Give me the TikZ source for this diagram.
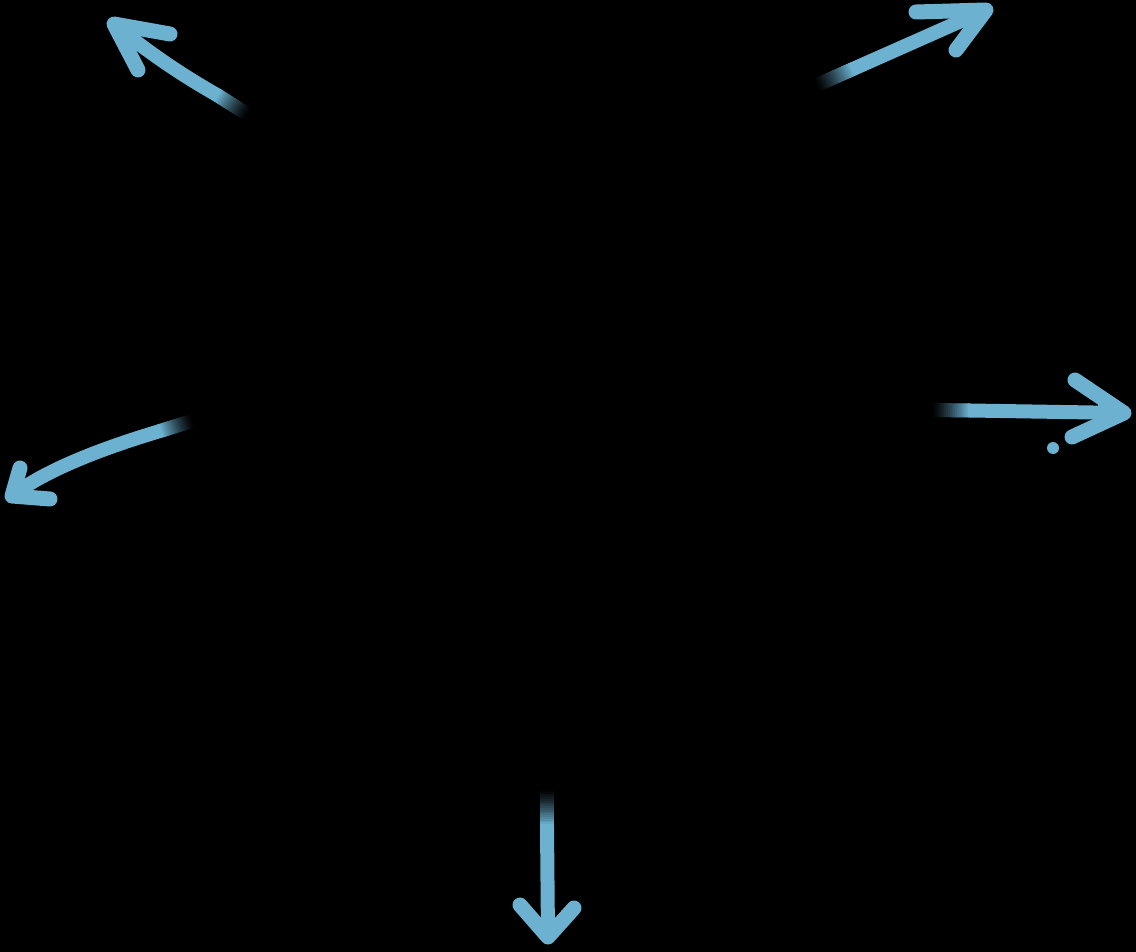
\documentclass[tikz,border=0pt]{standalone}
\usetikzlibrary{calc}
\definecolor{lb}{RGB}{108,178,208}
\tikzset{
  shaft/.style={line width=14pt, line cap=butt},
  head/.style={draw=lb, line width=15pt, line cap=round, line join=round},
  wedge/.style={fill=lb, draw=lb, line width=12pt, line join=round},
}
\newcommand{\chalkfade}[2]{%
  \foreach \k in {1,...,20}{%
    \pgfmathsetmacro{\pct}{100*(\k/20)^1.3}%
    \draw[shaft, draw=lb!\pct!black] ($(#1)!{(\k-1)/20}!(#2)$) -- ($(#1)!{(\k+0.4)/20}!(#2)$);
  }}
\newcommand{\chalkhead}[3]{%
  \draw[head] (#2) -- (#1) -- (#3);
  \filldraw[wedge] (#1) -- ($(#1)!0.4!(#2)$) -- ($(#1)!0.4!(#3)$) -- cycle;
}
\begin{document}
\begin{tikzpicture}[x=1pt,y=-1pt]
\fill[black] (0,0) rectangle (1136,952);
\useasboundingbox (0,0) rectangle (1136,952);

% top-left arrow
\coordinate (s1) at (247,114);
\coordinate (f1) at (217,95);
\coordinate (t1) at (114,24);
\coordinate (b1a) at (170,34);
\coordinate (b1b) at (138,70);
\chalkfade{s1}{f1}
\draw[shaft, draw=lb] (f1) .. controls (180,74) and (145,50) .. (t1);
\chalkhead{t1}{b1a}{b1b}

% top-right arrow
\coordinate (s2) at (817,85);
\coordinate (f2) at (853,69);
\coordinate (t2) at (986,10);
\coordinate (b2a) at (916,12);
\coordinate (b2b) at (956,50);
\chalkfade{s2}{f2}
\draw[shaft, draw=lb] (f2) -- (t2);
\chalkhead{t2}{b2a}{b2b}

% right arrow
\coordinate (s3) at (933,410);
\coordinate (f3) at (970,410.5);
\coordinate (t3) at (1124,413);
\coordinate (b3a) at (1075,380);
\coordinate (b3b) at (1072,437);
\chalkfade{s3}{f3}
\draw[shaft, draw=lb] (f3) -- (t3);
\chalkhead{t3}{b3a}{b3b}
\fill[lb] (1053,448) circle (6);

% left arrow
\coordinate (s4) at (192,421);
\coordinate (f4) at (160,431);
\coordinate (t4) at (12,496);
\coordinate (b4a) at (20,468);
\coordinate (b4b) at (50,499);
\chalkfade{s4}{f4}
\draw[shaft, draw=lb] (f4) .. controls (120,443) and (50,466) .. (t4);
\chalkhead{t4}{b4a}{b4b}

% bottom arrow
\coordinate (s5) at (547,790);
\coordinate (f5) at (547,826);
\coordinate (t5) at (548,937);
\coordinate (b5a) at (520,905);
\coordinate (b5b) at (574,908);
\chalkfade{s5}{f5}
\draw[shaft, draw=lb] (f5) -- (t5);
\chalkhead{t5}{b5a}{b5b}
\end{tikzpicture}
\end{document}
